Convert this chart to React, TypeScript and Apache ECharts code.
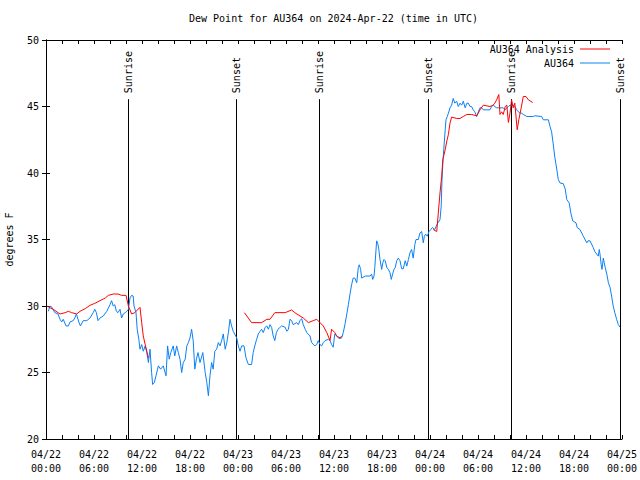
import React, { useEffect, useRef } from "react";
import * as echarts from "echarts";

const TITLE = "Dew Point for AU364 on 2024-Apr-22 (time in UTC)";
const Y_NAME = "degrees F";
const SERIES_ANALYSIS = "AU364 Analysis";
const SERIES_OBS = "AU364";

// hours since 2024-04-22 00:00 UTC, dew point (F)
const blueSeries: [number, number][] = [
  [0.29, 29.6], [0.5, 30.0], [0.75, 29.9], [1.1, 29.5], [1.5, 29.4], [1.75, 29.0], [1.96, 28.8],
  [2.16, 29.0], [2.5, 28.5], [2.8, 28.5], [3.0, 28.8], [3.4, 28.9], [3.6, 29.1], [3.8, 29.4],
  [4.1, 28.8], [4.3, 28.5], [4.66, 28.9], [5.1, 28.9], [5.5, 29.1], [5.9, 29.5], [6.1, 29.75],
  [6.3, 29.5], [6.5, 28.9], [6.75, 29.1], [7.16, 29.25], [7.6, 29.6], [8.0, 30.1], [8.2, 30.4],
  [8.4, 30.0], [8.6, 30.1], [8.8, 29.6], [9.0, 29.5], [9.25, 29.75], [9.45, 29.1], [9.66, 29.4],
  [9.9, 29.5], [10.1, 29.6], [10.3, 29.75], [10.5, 30.6], [10.7, 30.8], [10.9, 30.75], [11.0, 30.0],
  [11.25, 29.5], [11.4, 28.25], [11.6, 27.5], [11.75, 26.75], [11.96, 27.1], [12.16, 26.6],
  [12.4, 27.0], [12.6, 26.5], [12.8, 25.75], [13.0, 26.75], [13.2, 25.0], [13.33, 24.1],
  [13.54, 24.25], [13.75, 24.75], [14.04, 25.5], [14.33, 25.25], [14.66, 25.5], [15.0, 24.75],
  [15.2, 27.0], [15.4, 26.0], [15.6, 26.5], [15.9, 27.0], [16.1, 26.25], [16.33, 27.0],
  [16.54, 26.5], [16.75, 26.0], [16.96, 25.0], [17.16, 25.75], [17.4, 26.0], [17.6, 27.0],
  [17.8, 27.25], [18.0, 27.6], [18.2, 28.25], [18.4, 27.4], [18.6, 25.25], [18.8, 26.0],
  [19.0, 26.5], [19.25, 25.75], [19.6, 26.5], [19.9, 25.0], [20.1, 24.25], [20.3, 23.25],
  [20.5, 24.75], [20.7, 25.75], [20.9, 25.25], [21.1, 26.6], [21.33, 26.75], [21.54, 27.25],
  [21.75, 27.0], [21.96, 27.4], [22.16, 27.9], [22.4, 26.75], [22.6, 27.25], [22.8, 28.0],
  [23.0, 29.0], [23.2, 28.5], [23.4, 28.1], [23.84, 27.6], [24.04, 27.0], [24.25, 26.6],
  [24.46, 27.0], [24.75, 27.0], [25.0, 26.1], [25.3, 25.6], [25.7, 25.6], [25.9, 26.5],
  [26.1, 27.0], [26.33, 27.5], [26.54, 27.9], [26.75, 28.1], [26.96, 28.25], [27.16, 28.0],
  [27.4, 28.4], [27.6, 28.5], [27.8, 28.25], [28.0, 28.6], [28.2, 28.4], [28.4, 27.75],
  [28.6, 27.4], [28.8, 28.0], [29.0, 28.25], [29.45, 28.5], [29.9, 28.4], [30.1, 28.1],
  [30.3, 28.25], [30.5, 29.0], [30.7, 28.9], [30.9, 28.6], [31.33, 28.75], [31.54, 28.6],
  [31.75, 28.9], [31.96, 29.05], [32.16, 28.6], [32.4, 28.25], [32.6, 28.0], [33.0, 27.75],
  [33.2, 27.25], [33.6, 27.0], [33.84, 27.1], [34.04, 27.4], [34.25, 27.1], [34.46, 27.0],
  [34.66, 27.25], [34.9, 27.4], [35.3, 27.5], [35.5, 27.4], [35.7, 27.1], [35.9, 26.9],
  [36.1, 27.9], [36.33, 27.75], [36.54, 27.6], [36.75, 27.55], [36.96, 27.6], [37.16, 28.0],
  [37.4, 28.7], [37.6, 29.4], [37.8, 30.1], [38.0, 30.9], [38.2, 31.6], [38.4, 32.1],
  [38.6, 32.1], [38.84, 31.75], [39.04, 32.9], [39.16, 33.1], [39.33, 32.75], [39.46, 32.1],
  [39.9, 32.25], [40.5, 32.25], [40.7, 32.4], [40.84, 32.0], [41.0, 32.25], [41.1, 32.9],
  [41.33, 34.9], [41.46, 34.75], [41.6, 34.25], [41.75, 33.5], [41.96, 32.75], [42.1, 33.25],
  [42.25, 33.5], [42.4, 33.4], [42.6, 32.9], [42.8, 32.75], [43.0, 32.5], [43.16, 32.0],
  [43.33, 32.4], [43.5, 32.75], [43.66, 32.9], [43.84, 33.4], [44.04, 33.6], [44.25, 33.4],
  [44.46, 32.8], [44.66, 32.8], [44.9, 33.4], [45.1, 33.0], [45.3, 33.5], [45.5, 34.0],
  [45.7, 34.25], [45.9, 33.6], [46.1, 34.6], [46.25, 35.0], [46.54, 35.0], [46.75, 35.5],
  [46.96, 35.6], [47.16, 34.75], [47.3, 35.25], [47.46, 35.4], [47.66, 35.25], [47.875, 35.6],
  [48.1, 35.75], [48.3, 35.9], [48.6, 35.75], [48.84, 36.1], [49.04, 36.3], [49.25, 36.5],
  [49.4, 37.5], [49.5, 39.5], [49.66, 41.25], [49.9, 43.25], [50.0, 44.0], [50.16, 44.25],
  [50.3, 44.5], [50.5, 44.9], [50.7, 45.1], [50.9, 45.6], [51.1, 45.25], [51.33, 45.4],
  [51.54, 45.0], [51.75, 45.25], [51.96, 45.1], [52.16, 45.4], [52.4, 44.9], [52.6, 45.25],
  [52.8, 45.25], [53.0, 45.0], [53.2, 45.0], [53.4, 44.75], [53.6, 44.6], [53.84, 44.25],
  [54.04, 44.6], [54.25, 44.9], [54.46, 44.9], [54.66, 44.75], [55.1, 44.75], [55.5, 44.75],
  [55.7, 45.0], [55.9, 45.1], [56.1, 45.0], [56.33, 44.9], [56.75, 44.9], [57.16, 44.9],
  [57.4, 44.75], [57.6, 44.9], [57.8, 45.0], [58.0, 45.1], [58.4, 45.1], [58.6, 45.0],
  [58.84, 44.75], [59.04, 44.6], [59.25, 44.5], [59.46, 44.5], [59.66, 44.4], [60.1, 44.25],
  [60.5, 44.25], [60.9, 44.25], [61.1, 44.3], [61.96, 44.25], [62.16, 44.0], [62.8, 44.0],
  [63.0, 43.5], [63.2, 43.1], [63.4, 42.2], [63.6, 41.2], [63.84, 40.3], [64.04, 39.5],
  [64.25, 39.25], [64.66, 39.2], [64.9, 38.8], [65.1, 38.0], [65.4, 37.75], [65.6, 37.0],
  [65.84, 36.4], [66.25, 36.25], [66.4, 35.9], [66.75, 35.75], [67.16, 35.25], [67.6, 34.75],
  [67.75, 34.9], [68.0, 34.9], [68.4, 34.4], [68.6, 34.1], [68.84, 33.9], [69.04, 33.75],
  [69.16, 34.25], [69.25, 33.9], [69.4, 33.1], [69.5, 32.75], [69.66, 33.6], [69.9, 32.9],
  [70.1, 32.4], [70.3, 31.75], [70.5, 31.4], [70.7, 30.75], [70.9, 30.0], [71.1, 29.5],
  [71.33, 29.0], [71.54, 28.6], [71.75, 28.4],
];

const redSegment1: [number, number][] = [
  [0.1, 30.0], [0.9, 29.75], [1.75, 29.4], [2.4, 29.5], [2.8, 29.6], [3.2, 29.5], [3.84, 29.4],
  [4.25, 29.6], [4.9, 29.8], [5.5, 30.05], [6.1, 30.2], [6.75, 30.4], [7.4, 30.6], [7.8, 30.8],
  [8.4, 30.9], [9.0, 30.9], [9.46, 30.8], [10.0, 30.8], [10.3, 30.0], [10.7, 29.4], [11.1, 29.5],
  [11.75, 29.9], [11.96, 28.75], [12.16, 27.75], [12.4, 27.1], [12.6, 26.6], [12.8, 26.1],
];
const redSegment2: [number, number][] = [
  [24.8, 29.5], [25.7, 28.75], [26.96, 28.75], [27.6, 29.0], [28.0, 29.0], [28.6, 29.5],
  [29.9, 29.5], [30.7, 29.7], [31.1, 29.5], [31.75, 29.25], [32.16, 29.1], [32.8, 28.75],
  [33.4, 28.9], [33.84, 29.0], [34.25, 28.75], [34.66, 28.5], [35.1, 28.0], [35.5, 27.4],
  [35.7, 28.25], [36.1, 28.0], [36.33, 27.75], [36.75, 27.6], [36.96, 27.75],
];
const redSegment3: [number, number][] = [
  [48.4, 35.75], [48.84, 35.6], [49.04, 37.0], [49.25, 38.5], [49.46, 39.75], [49.6, 41.0],
  [49.9, 41.75], [50.1, 42.4], [50.3, 42.9], [50.5, 43.75], [50.7, 44.2], [51.33, 44.1],
  [51.75, 44.1], [52.16, 44.25], [52.6, 44.4], [53.2, 44.4], [53.84, 44.3], [54.04, 44.5],
  [54.25, 44.75], [54.66, 45.1], [55.1, 45.05], [55.5, 45.0], [55.9, 45.1], [56.1, 45.25],
  [56.33, 45.5], [56.6, 45.9], [56.75, 44.4], [56.96, 44.6], [57.16, 44.4], [57.4, 45.0],
  [57.6, 45.1], [57.8, 43.8], [58.0, 44.5], [58.2, 45.5], [58.4, 44.9], [58.6, 45.25],
  [58.9, 43.25], [59.1, 44.0], [59.4, 44.9], [59.66, 45.75], [60.0, 45.75], [60.3, 45.5],
  [60.84, 45.3],
];

const sunHours = [10.25, 23.75, 34.125, 47.75, 58.125, 71.75];
const sunLabels = ["Sunrise", "Sunset", "Sunrise", "Sunset", "Sunrise", "Sunset"];
const SUN_LINE_TOP = 45.55;

const xTickHours = 6;
const yMin = 20;
const yMax = 50;
const yStep = 5;

const FONT = "DejaVu Sans Mono";
const RED = "#ff0000";
const BLUE = "#0a80f5";

function xLabel(v: number): string {
  const day = 22 + Math.floor(v / 24);
  const hh = Math.round(v % 24);
  return `04/${day}\n${String(hh).padStart(2, "0")}:00`;
}

export default function App() {
  const ref = useRef<HTMLDivElement>(null);
  useEffect(() => {
    if (!ref.current) return;
    const chart = echarts.init(ref.current, undefined, { renderer: "svg" });
    const redData: any[] = [...redSegment1, "-", ...redSegment2, "-", ...redSegment3];
    const axisCommon = {
      axisLine: { show: true, lineStyle: { color: "#000", width: 1 } },
      splitLine: { show: false },
    };
    chart.setOption({
      animation: false,
      backgroundColor: "#fff",
      textStyle: { fontFamily: FONT, fontSize: 10, color: "#000" },
      title: {
        text: TITLE,
        left: 189,
        top: 13,
        padding: 0,
        textStyle: { fontFamily: FONT, fontSize: 10, fontWeight: "normal", color: "#000" },
      },
      legend: [
        {
          data: [SERIES_ANALYSIS],
          right: 30,
          top: 44,
          padding: 0,
          align: "right",
          icon: "rect",
          itemWidth: 30,
          itemHeight: 1,
          textStyle: { fontFamily: FONT, fontSize: 10, color: "#000", padding: [0, 1, 0, 0] },
        },
        {
          data: [SERIES_OBS],
          right: 30,
          top: 58,
          padding: 0,
          align: "right",
          icon: "rect",
          itemWidth: 30,
          itemHeight: 1,
          textStyle: { fontFamily: FONT, fontSize: 10, color: "#000", padding: [0, 1, 0, 0] },
        },
      ],
      grid: {
        left: 46,
        right: 18,
        top: 40,
        bottom: 41,
        containLabel: false,
        outerBoundsMode: "none",
      },
      xAxis: [
        {
          type: "value",
          min: 0,
          max: 72,
          interval: xTickHours,
          ...axisCommon,
          axisTick: { show: true, inside: true, length: 4, lineStyle: { color: "#000" } },
          minorTick: { show: true, splitNumber: 3, length: 4, lineStyle: { color: "#000" } },
          axisLabel: {
            formatter: xLabel,
            fontFamily: FONT,
            fontSize: 10,
            color: "#000",
            lineHeight: 14,
            margin: 8,
          },
        },
        {
          type: "value",
          position: "top",
          min: 0,
          max: 72,
          interval: xTickHours,
          ...axisCommon,
          axisTick: { show: true, inside: true, length: 4, lineStyle: { color: "#000" } },
          minorTick: { show: true, splitNumber: 3, length: 4, lineStyle: { color: "#000" } },
          axisLabel: { show: false },
        },
      ],
      yAxis: [
        {
          type: "value",
          min: yMin,
          max: yMax,
          interval: yStep,
          name: Y_NAME,
          nameLocation: "middle",
          nameGap: 32,
          nameTextStyle: { fontFamily: FONT, fontSize: 10, color: "#000" },
          ...axisCommon,
          axisTick: { show: true, inside: true, length: 4, lineStyle: { color: "#000" } },
          axisLabel: { fontFamily: FONT, fontSize: 10, color: "#000", margin: 7 },
        },
        {
          type: "value",
          position: "right",
          min: yMin,
          max: yMax,
          interval: yStep,
          ...axisCommon,
          axisTick: { show: true, inside: true, length: 4, lineStyle: { color: "#000" } },
          axisLabel: { show: false },
        },
      ],
      series: [
        {
          type: "custom",
          name: "sun",
          silent: true,
          clip: false,
          data: sunHours.map((h) => [h, SUN_LINE_TOP]),
          renderItem: (params: any, api: any) => {
            const h = api.value(0);
            const p0 = api.coord([h, yMin]);
            const p1 = api.coord([h, api.value(1)]);
            const xs = Math.round(p0[0]) + 0.5;
            return {
              type: "group",
              children: [
                {
                  type: "line",
                  shape: { x1: xs, y1: p0[1], x2: xs, y2: p1[1] },
                  style: { stroke: "#000", lineWidth: 1 },
                },
                {
                  type: "text",
                  x: xs,
                  y: p1[1] - 6,
                  rotation: Math.PI / 2,
                  style: {
                    text: sunLabels[params.dataIndex],
                    align: "left",
                    verticalAlign: "middle",
                    fontFamily: FONT,
                    fontSize: 10,
                    fill: "#000",
                  },
                },
              ],
            };
          },
          z: 1,
        },
        {
          type: "line",
          name: SERIES_ANALYSIS,
          data: redData,
          showSymbol: false,
          symbol: "none",
          connectNulls: false,
          lineStyle: { color: RED, width: 1 },
          itemStyle: { color: RED },
          z: 3,
        },
        {
          type: "line",
          name: SERIES_OBS,
          data: blueSeries,
          showSymbol: false,
          symbol: "none",
          lineStyle: { color: BLUE, width: 1 },
          itemStyle: { color: BLUE },
          z: 2,
        },
      ],
    });
    return () => chart.dispose();
  }, []);
  return (
    <div
      ref={ref}
      style={{ position: "fixed", left: 0, top: 0, width: 640, height: 480, background: "#fff" }}
    />
  );
}
